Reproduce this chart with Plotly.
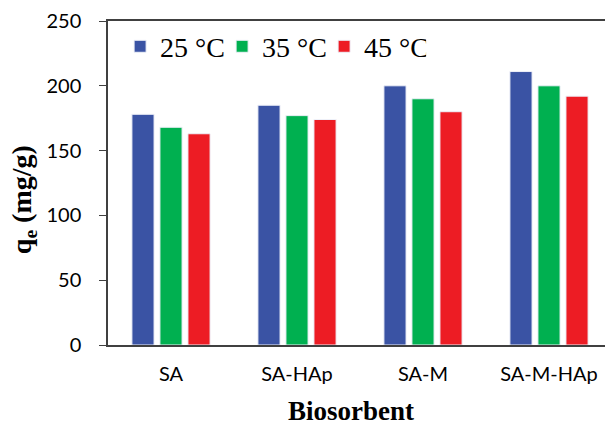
import plotly.graph_objects as go

categories = ["SA", "SA-HAp", "SA-M", "SA-M-HAp"]
series_names = ["25 °C", "35 °C", "45 °C"]
q_25 = [178, 185, 200, 211]
q_35 = [168, 177, 190, 200]
q_45 = [163, 174, 180, 192]
colors = ["#3A53A4", "#00B050", "#ED1C24"]
y_ticks = [0, 50, 100, 150, 200, 250]

SERIF = "Times New Roman, Liberation Serif, DejaVu Serif, serif"
SANS = "Lato, Open Sans, sans-serif"

fig = go.Figure()
for name, vals, col in zip(series_names, [q_25, q_35, q_45], colors):
    fig.add_trace(go.Bar(
        x=categories, y=vals, name=name,
        marker=dict(color=col, line=dict(color="#EEF0F8", width=1)),
    ))

axis_col = "#404040"
# page body has an 8px default margin, so the figure is sized/offset to compensate
fig.update_layout(
    width=605, height=415,
    margin=dict(l=100, r=1, t=12.5, b=78),
    paper_bgcolor="white", plot_bgcolor="white",
    barmode="group", bargap=0.333, bargroupgap=0.21,
    showlegend=True,
    legend=dict(
        orientation="h", x=0.024, xanchor="left", y=0.921, yanchor="middle",
        font=dict(family=SERIF, size=28, color="black"),
        bgcolor="rgba(0,0,0,0)", entrywidth=57, entrywidthmode="pixels",
        itemclick=False,
    ),
    xaxis=dict(
        showline=True, linecolor=axis_col, linewidth=1.5, mirror=True,
        ticks="", showgrid=False, zeroline=False,
        tickfont=dict(family=SANS, size=20, color="black"),
        range=[-0.5, 3.5], ticklabelstandoff=10,
    ),
    yaxis=dict(
        showline=True, linecolor=axis_col, linewidth=1.5, mirror=False,
        ticks="outside", ticklen=7, tickcolor=axis_col, tickwidth=1,
        showgrid=False, zeroline=False,
        tickvals=y_ticks, range=[0, 250],
        tickfont=dict(family=SANS, size=20, color="black"),
        ticklabelstandoff=14,
    ),
    annotations=[
        dict(text="<b>q<sub>e</sub> (mg/g)</b>", textangle=-90,
             xref="paper", yref="paper", x=-0.1687, y=0.45,
             xanchor="center", yanchor="middle", showarrow=False,
             font=dict(family=SERIF, size=28, color="black")),
        dict(text="<b>Biosorbent</b>",
             xref="paper", yref="paper", x=0.482, y=-0.205,
             xanchor="center", yanchor="middle", showarrow=False,
             font=dict(family=SERIF, size=27, color="black")),
    ],
)

fig.write_html("out.html")
